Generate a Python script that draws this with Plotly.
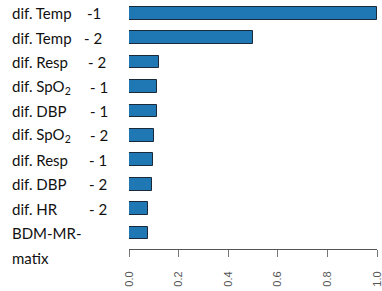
import plotly.graph_objects as go

NB = "\u00a0"
# category labels (name part + suffix part), top to bottom
label_names = [
    "dif. Temp", "dif. Temp", "dif. Resp", "dif. SpO<sub>2</sub>", "dif. DBP",
    "dif. SpO<sub>2</sub>", "dif. Resp", "dif. DBP", "dif. HR", "BDM-MR-",
]
label_suffix = ["-1", "- 2", "- 2", "- 1", "- 1", "- 2", "- 1", "- 2", "- 2", ""]
extra_label = "matix"
values = [1.0, 0.50, 0.121, 0.111, 0.111, 0.100, 0.097, 0.094, 0.078, 0.078]
x_ticks = [0.0, 0.2, 0.4, 0.6, 0.8, 1.0]
x_tick_text = ["0.0", "0.2", "0.4", "0.6", "0.8", "1.0"]

# layout helpers (pixel positions of label parts)
PLOT_L, PLOT_W = 129, 248
name_px = 10
suffix_px = [85, 82, 86, 88, 88, 88, 87, 87, 87, 0]

def px2paper(p):
    return (p - PLOT_L) / PLOT_W

idx = list(range(len(values)))

fig = go.Figure()
fig.add_trace(go.Bar(
    x=values, y=idx, orientation="h", width=0.52,
    marker=dict(color="#1f77b4", line=dict(color="#1a2a3a", width=1)),
    hoverinfo="skip", cliponaxis=False,
))

font_lab = dict(family="Lato, Open Sans, sans-serif", size=15, color="#111111")
for i, (nm, sf) in enumerate(zip(label_names, label_suffix)):
    fig.add_annotation(text=nm, xref="paper", yref="y", x=px2paper(name_px), y=i,
                       xanchor="left", yanchor="middle", showarrow=False, font=font_lab)
    if sf:
        fig.add_annotation(text=sf.replace(" ", NB), xref="paper", yref="y",
                           x=px2paper(suffix_px[i]), y=i, xanchor="left", yanchor="middle",
                           showarrow=False, font=font_lab)
fig.add_annotation(text=extra_label, xref="paper", yref="y", x=px2paper(name_px),
                   y=len(values) - 1, yshift=-25, xanchor="left", yanchor="middle",
                   showarrow=False, font=font_lab)

fig.update_layout(
    width=382, height=291,
    margin=dict(l=PLOT_L, r=382 - PLOT_L - PLOT_W, t=1, b=42, autoexpand=False),
    plot_bgcolor="white", paper_bgcolor="white",
    showlegend=False, bargap=0,
)
fig.update_xaxes(range=[0, 1], tickvals=x_ticks, ticktext=x_tick_text, tickangle=-90,
                 ticks="outside", ticklen=7, tickcolor="#777777", showline=True,
                 linecolor="#555555", linewidth=1, showgrid=False, zeroline=False,
                 automargin=False, ticklabeloverflow="allow", ticklabelstandoff=10,
                 tickfont=dict(family="Liberation Sans, Arial", size=11, color="#555555"))
fig.update_yaxes(range=[9.65, -0.5], showticklabels=False, showgrid=False,
                 zeroline=False, showline=False, ticks="", automargin=False)

fig.write_html("out.html", config={"displayModeBar": False},
               post_script="document.body.style.margin='0';document.body.style.overflow='hidden';")
